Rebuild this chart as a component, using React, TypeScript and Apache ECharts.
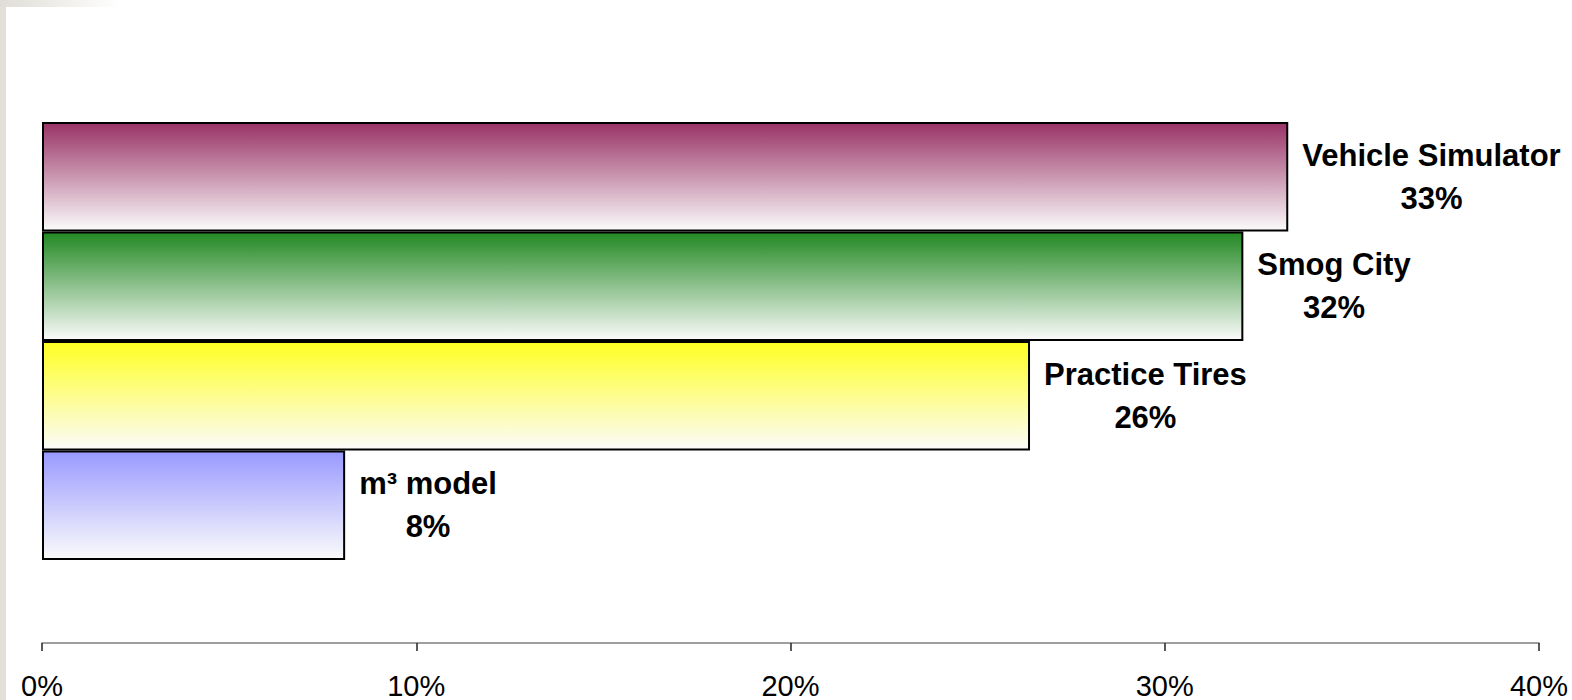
import React, { useEffect, useRef } from "react";
import * as echarts from "echarts";

const categories = ["Vehicle Simulator", "Smog City", "Practice Tires", "m³ model"];
const values = [33.3, 32.1, 26.4, 8.1];
const labelValues = ["33%", "32%", "26%", "8%"];
const barColors = ["#993366", "#228822", "#ffff22", "#9999ff"];
const xTicks = { min: 0, max: 40, interval: 10 };

export default function App() {
  const ref = useRef<HTMLDivElement>(null);
  useEffect(() => {
    if (!ref.current) return;
    const chart = echarts.init(ref.current, null, { renderer: "svg" });
    const data = values.map((v, i) => ({
      value: v,
      name: categories[i],
      itemStyle: {
        color: new echarts.graphic.LinearGradient(0, 0, 0, 1, [
          { offset: 0, color: barColors[i] },
          { offset: 1, color: "#fbfbfb" },
        ]),
        borderColor: "#000",
        borderWidth: 2,
      },
    }));
    chart.setOption({
      animation: false,
      backgroundColor: "#ffffff",
      graphic: [
        { type: "rect", shape: { x: 0, y: 0, width: 6, height: 700 }, style: { fill: "#e3e0da" }, z: 100 },
        {
          type: "rect",
          shape: { x: 0, y: 0, width: 120, height: 7 },
          style: {
            fill: new echarts.graphic.LinearGradient(0, 0, 1, 0, [
              { offset: 0, color: "#e0ddd6" },
              { offset: 1, color: "#ffffff" },
            ]),
          },
          z: 100,
        },
      ],
      grid: { left: 42, right: 33, top: 122, bottom: 138, containLabel: false },
      xAxis: {
        type: "value",
        min: xTicks.min,
        max: xTicks.max,
        interval: xTicks.interval,
        offset: 83,
        splitLine: { show: false },
        axisLine: { show: true, lineStyle: { color: "#7f7f7f", width: 1.5 } },
        axisTick: { show: true, length: 8, lineStyle: { color: "#222", width: 1.5 } },
        axisLabel: {
          formatter: "{value}%",
          fontFamily: "Liberation Sans, Arial, sans-serif",
          fontSize: 29,
          color: "#000",
          margin: 28,
        },
      },
      yAxis: {
        type: "category",
        data: categories,
        inverse: true,
        axisLine: { show: false },
        axisTick: { show: false },
        axisLabel: { show: false },
        splitLine: { show: false },
      },
      series: [
        {
          type: "bar",
          data,
          barCategoryGap: "0%",
          label: {
            show: true,
            position: "right",
            distance: 14,
            formatter: (p: any) => `{a|${p.name}}\n{a|${labelValues[p.dataIndex]}}`,
            rich: {
              a: {
                align: "center",
                fontFamily: "Liberation Sans, Arial, sans-serif",
                fontWeight: "bold",
                fontSize: 31,
                lineHeight: 43,
                color: "#000",
              },
            },
          },
        },
      ],
    });
    return () => chart.dispose();
  }, []);
  return (
    <div
      ref={ref}
      style={{ position: "fixed", left: 0, top: 0, width: 1572, height: 700 }}
    />
  );
}
